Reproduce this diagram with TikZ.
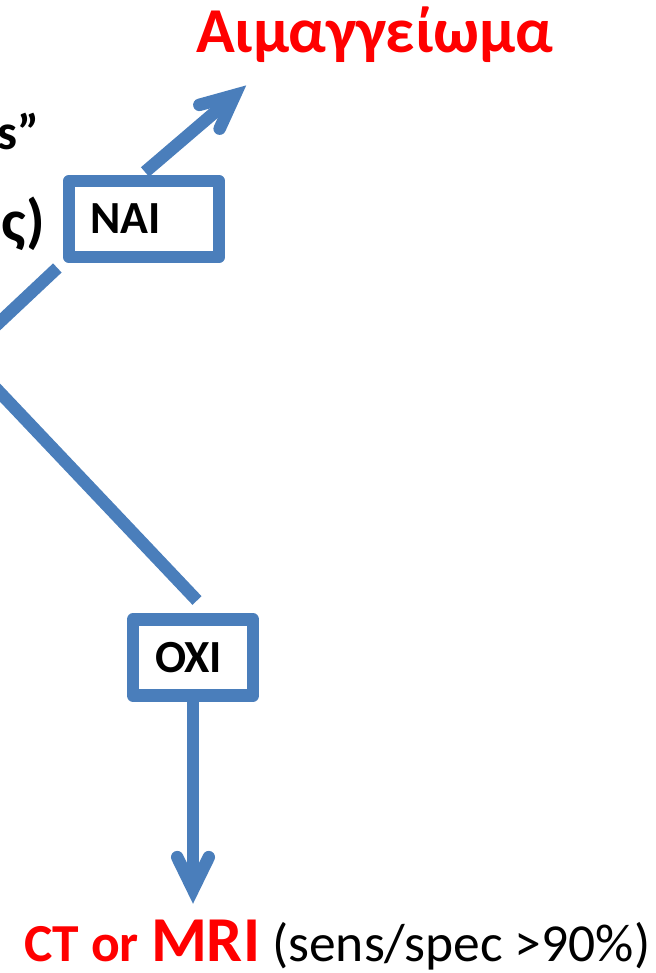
\documentclass[tikz,border=0pt]{standalone}
\usepackage{fontspec}
\setmainfont{Carlito}
\usetikzlibrary{calc}
\definecolor{flowblue}{HTML}{4A7EBB}
\definecolor{flowred}{HTML}{FF0000}
\tikzset{
  answer/.style={draw=flowblue, line width=12.5pt, line join=round, outer sep=0pt,
    minimum height=76pt, align=left, inner ysep=0pt,
    font=\fontsize{46}{50}\selectfont\bfseries},
  link/.style={draw=flowblue, line width=12.5pt},
  barb/.style={draw=flowblue, line width=12.5pt, line cap=round, line join=miter},
  caption/.style={inner sep=0pt, outer sep=0pt},
}
\begin{document}
\begin{tikzpicture}[x=1pt, y=-1pt]
  \useasboundingbox (0,0) rectangle (655,973);

  % text running in from the left edge
  \node[caption, anchor=base east, font=\fontsize{50}{54}\selectfont\bfseries] (fragA) at (39,150) {s”};
  \node[caption, anchor=base east, font=\fontsize{60}{64}\selectfont\bfseries] (fragB) at (45,242) {ος)};

  % outcome heading
  \node[caption, anchor=base west, text=flowred, font=\fontsize{64}{70}\selectfont\bfseries] (hem) at (196,53) {Αιμαγγείωμα};

  % answer boxes
  \node[answer, text width=108pt, inner xsep=21pt] (nai) at (144,219) {NAI};
  \node[answer, text width=76pt, inner xsep=22pt] (oxi) at (193,657.5) {OXI};

  % imaging line
  \node[caption, anchor=base west, font=\fontsize{53.5}{60}\selectfont] (imaging) at (24,961)
    {{\color{flowred}\bfseries CT or {\fontsize{64}{68}\selectfont MRI}} (sens/spec >90\%)};

  % branches coming from the left
  \coordinate (offA) at (-30,350);
  \coordinate (offB) at (-30,361);
  \draw[link, shorten <=16pt] (nai.south west) -- (offA);
  \draw[link] (offB) -- ($(oxi.north)+(4,-19)$);

  % arrow NAI -> heading
  \coordinate (tipA) at (235,95);
  \draw[link] ($(nai.north)+(1,-9)$) -- (tipA);
  \draw[barb] ($(tipA)+(114.5:37)$) -- (tipA) -- ($(tipA)+(164.5:37)$);

  % arrow OXI -> imaging
  \coordinate (tipB) at ($(oxi.south)+(0,194)$);
  \draw[link] (oxi.south) -- (tipB);
  \draw[barb] ($(tipB)+(244:36)$) -- (tipB) -- ($(tipB)+(296:36)$);
\end{tikzpicture}
\end{document}
